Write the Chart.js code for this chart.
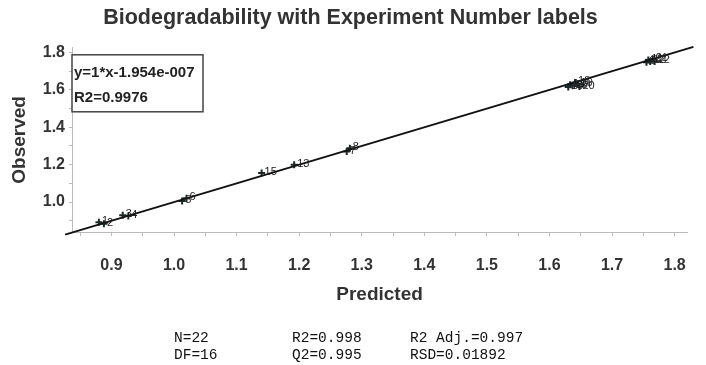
<!DOCTYPE html>
<html>
<head>
<meta charset="utf-8">
<script src="https://cdn.jsdelivr.net/npm/chart.js@4.4.1/dist/chart.umd.min.js"></script>
<style>
  html, body { margin: 0; padding: 0; background: #fff; }
  #wrap { width: 706px; height: 365px; position: relative; }
</style>
</head>
<body>
<div id="wrap"><canvas id="c" width="706" height="365"></canvas></div>
<script>
// ---- data ----
const expLabels = ['1','2','3','4','5','6','15','13','7','8','10','14','16','18','19','20','9','11','12','21','22'];
const predicted = [0.880,0.888,0.918,0.927,1.013,1.020,1.140,1.192,1.276,1.281,1.630,1.633,1.637,1.641,1.645,1.648,1.755,1.758,1.761,1.765,1.768];
const observed  = [0.892,0.884,0.930,0.925,1.006,1.020,1.156,1.200,1.270,1.288,1.616,1.628,1.622,1.640,1.632,1.618,1.748,1.760,1.752,1.765,1.752];
const fitLineX = [0.826, 1.830];
const fitSlope = 1, fitIntercept = -1.954e-7;
const equationLines = ['y=1*x-1.954e-007', 'R2=0.9976'];
const statsCol1 = ['N=22', 'DF=16'];
const statsCol2 = ['R2=0.998', 'Q2=0.995'];
const statsCol3 = ['R2 Adj.=0.997', 'RSD=0.01892'];
const chartTitle = 'Biodegradability with Experiment Number labels';
const xTitle = 'Predicted';
const yTitle = 'Observed';

const points = predicted.map((p, i) => ({x: p, y: observed[i]}));
const linePts = fitLineX.map(x => ({x: x, y: fitSlope * x + fitIntercept}));

const overlay = {
  id: 'overlay',
  afterDatasetsDraw(chart) {
    const ctx = chart.ctx;
    const meta = chart.getDatasetMeta(1);
    ctx.save();
    // point labels
    ctx.font = '11px "Liberation Sans", Arial, sans-serif';
    ctx.fillStyle = '#222';
    ctx.textBaseline = 'middle';
    ctx.textAlign = 'left';
    meta.data.forEach((el, i) => {
      ctx.fillText(expLabels[i], el.x + 3, el.y - 1);
    });
    // equation box
    const a = chart.chartArea;
    const bx = a.left, by = a.top + 7, bw = 131, bh = 57;
    ctx.strokeStyle = '#444';
    ctx.lineWidth = 1.5;
    ctx.fillStyle = '#fff';
    ctx.fillRect(bx, by, bw, bh);
    ctx.strokeRect(bx, by, bw, bh);
    ctx.fillStyle = '#222';
    ctx.font = 'bold 15px "Liberation Sans", Arial, sans-serif';
    ctx.fillText(equationLines[0], bx + 2, by + 18);
    ctx.fillText(equationLines[1], bx + 2, by + 43);
    // stats
    ctx.font = '14.5px "Liberation Mono", "Courier New", monospace';
    ctx.fillStyle = '#111';
    const rows = [338, 355];
    rows.forEach((ry, r) => {
      ctx.fillText(statsCol1[r], 174, ry);
      ctx.fillText(statsCol2[r], 292, ry);
      ctx.fillText(statsCol3[r], 410, ry);
    });
    ctx.restore();
  }
};

const tickFont = {family: '"Liberation Sans", Arial, sans-serif', size: 16, weight: 'bold'};
const titleFont = {family: '"Liberation Sans", Arial, sans-serif', size: 19, weight: 'bold'};

new Chart(document.getElementById('c'), {
  type: 'scatter',
  data: {
    datasets: [
      {
        type: 'line',
        data: linePts,
        borderColor: '#111',
        borderWidth: 2,
        pointRadius: 0,
        fill: false,
        clip: false
      },
      {
        data: points,
        pointStyle: 'cross',
        pointRadius: 3.5,
        borderColor: '#1a2a2a',
        borderWidth: 2,
        backgroundColor: '#1a2a2a'
      }
    ]
  },
  options: {
    responsive: false,
    animation: false,
    devicePixelRatio: 1,
    layout: { padding: { left: 8, right: 13, top: 0, bottom: 49 } },
    plugins: {
      legend: { display: false },
      tooltip: { enabled: false },
      title: {
        display: true,
        text: chartTitle,
        color: '#333',
        font: {family: '"Liberation Sans", Arial, sans-serif', size: 21.5, weight: 'bold'},
        padding: { top: 5, bottom: 17 }
      }
    },
    scales: {
      x: {
        type: 'linear',
        min: 0.837,
        max: 1.82,
        afterFit(s) { s.height = 84; },
        border: { display: true, color: '#bbb', width: 1 },
        grid: { display: true, drawOnChartArea: false, drawTicks: true, tickLength: 4, color: '#bbb' },
        ticks: {
          stepSize: 0.05,
          includeBounds: false,
          autoSkip: false,
          maxRotation: 0,
          padding: 20,
          color: '#333',
          font: tickFont,
          callback: (v) => (Math.round(v * 100) % 10 === 0 ? v.toFixed(1) : '')
        },
        title: { display: true, text: xTitle, color: '#333', font: titleFont, padding: { top: 0, bottom: 10 } }
      },
      y: {
        type: 'linear',
        min: 0.84,
        max: 1.825,
        afterFit(s) { s.width = 64; },
        border: { display: true, color: '#bbb', width: 1 },
        grid: { display: true, drawOnChartArea: false, drawTicks: true, tickLength: 3, color: '#bbb' },
        ticks: {
          stepSize: 0.1,
          includeBounds: false,
          autoSkip: false,
          padding: 4,
          color: '#333',
          font: tickFont,
          callback: (v) => (Math.round(v * 10) % 2 === 0 ? v.toFixed(1) : '')
        },
        title: { display: true, text: yTitle, color: '#333', font: titleFont, padding: { top: 0, bottom: 0 } }
      }
    }
  },
  plugins: [overlay]
});
</script>
</body>
</html>
